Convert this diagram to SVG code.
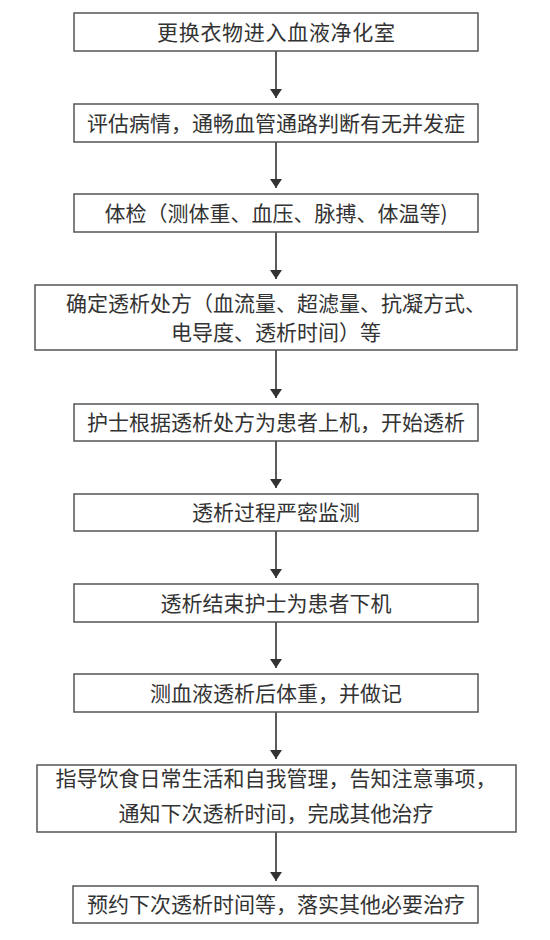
<svg xmlns="http://www.w3.org/2000/svg" width="550" height="940" viewBox="0 0 550 940">
<style>
.box{fill:#fff;stroke:#555;stroke-width:1.5}
.t{font-family:"Noto Sans CJK SC","Noto Sans",sans-serif;font-size:21px;fill:#333;text-anchor:middle}
.c{stroke:#333;stroke-width:1.6;fill:none;marker-end:url(#ah)}
</style>
<defs>
<marker id="ah" markerUnits="userSpaceOnUse" markerWidth="9" markerHeight="12" refX="9" refY="6" viewBox="0 0 9 12" orient="auto">
<path d="M0,0 L9,6 L0,12 Z" fill="#333"/>
</marker>
</defs>
<rect width="550" height="940" fill="#fff"/>
<g id="connectors">
<line class="c" x1="276" y1="51" x2="276" y2="98"/>
<line class="c" x1="276" y1="142" x2="276" y2="188"/>
<line class="c" x1="276" y1="232" x2="276" y2="279"/>
<line class="c" x1="276" y1="350" x2="276" y2="398"/>
<line class="c" x1="276" y1="441" x2="276" y2="488"/>
<line class="c" x1="276" y1="531" x2="276" y2="578"/>
<line class="c" x1="276" y1="622" x2="276" y2="668"/>
<line class="c" x1="276" y1="712" x2="276" y2="759"/>
<line class="c" x1="276" y1="832" x2="276" y2="881"/>
</g>
<g id="n1"><rect class="box" x="74" y="13" width="404" height="38"/><text class="t" x="276" y="40" textLength="238" lengthAdjust="spacing">更换衣物进入血液净化室</text></g>
<g id="n2"><rect class="box" x="74" y="104" width="404" height="38"/><text class="t" x="276" y="131">评估病情，通畅血管通路判断有无并发症</text></g>
<g id="n3"><rect class="box" x="74" y="194" width="404" height="38"/><text class="t" x="276" y="221">体检（测体重、血压、脉搏、体温等)</text></g>
<g id="n4"><rect class="box" x="35" y="285" width="482" height="65"/><text class="t" x="276" y="311">确定透析处方（血流量、超滤量、抗凝方式、</text><text class="t" x="276" y="340">电导度、透析时间）等</text></g>
<g id="n5"><rect class="box" x="74" y="404" width="404" height="37"/><text class="t" x="276" y="430">护士根据透析处方为患者上机，开始透析</text></g>
<g id="n6"><rect class="box" x="74" y="494" width="404" height="37"/><text class="t" x="276" y="520">透析过程严密监测</text></g>
<g id="n7"><rect class="box" x="74" y="584" width="404" height="38"/><text class="t" x="276" y="611">透析结束护士为患者下机</text></g>
<g id="n8"><rect class="box" x="74" y="674" width="404" height="38"/><text class="t" x="276" y="701">测血液透析后体重，并做记</text></g>
<g id="n9"><rect class="box" x="37" y="765" width="479" height="67"/><text class="t" x="276" y="786">指导饮食日常生活和自我管理，告知注意事项，</text><text class="t" x="276" y="821">通知下次透析时间，完成其他治疗</text></g>
<g id="n10"><rect class="box" x="73" y="886" width="405" height="37"/><text class="t" x="276" y="912">预约下次透析时间等，落实其他必要治疗</text></g>
</svg>
